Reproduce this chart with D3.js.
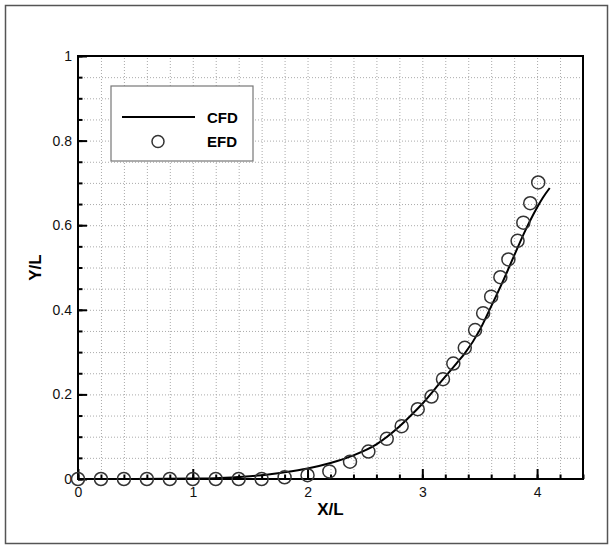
<!DOCTYPE html>
<html>

<head>
    <meta charset="utf-8">
    <style>
        body {
            margin: 0;
            background: white;
            font-family: 'Liberation Sans', Arial, sans-serif;
        }

        svg {
            display: block;
        }

        .grid line {
            stroke: #aaa;
            stroke-width: 1;
            stroke-dasharray: 1, 2;
        }

        .grid path {
            display: none;
        }

        .axis path {
            display: none;
        }

        .axis line {
            stroke: black;
            stroke-width: 2;
        }

        .axis text {
            font-size: 14px;
            fill: #111;
        }
    </style>
</head>

<body>
    <svg width="609" height="545"></svg>

    <script src="https://d3js.org/d3.v7.min.js"></script>

    <script>
        // CFD curve
        let cfdX = [0, 0.5, 1.0, 1.2, 1.4, 1.6, 1.8, 2.0, 2.2, 2.4, 2.6, 2.8, 2.9, 3.0, 3.15, 3.3, 3.37, 3.5, 3.6, 3.7, 3.8, 3.9, 4.0, 4.05, 4.11]
        let cfdY = [0, 0, 0.001, 0.002, 0.005, 0.009, 0.016, 0.025, 0.038, 0.056, 0.082, 0.124, 0.150, 0.178, 0.226, 0.274, 0.297, 0.352, 0.408, 0.466, 0.528, 0.589, 0.642, 0.665, 0.688]

        // EFD measurements
        let efdX = [0, 0.2, 0.4, 0.6, 0.8, 1.0, 1.2, 1.4, 1.6, 1.8, 2.0, 2.19, 2.37, 2.53, 2.69, 2.82, 2.96, 3.08, 3.18, 3.27, 3.37, 3.46, 3.53, 3.60, 3.68, 3.75, 3.83, 3.88, 3.94, 4.01]
        let efdY = [0, 0, 0, 0, 0, 0, 0, 0, 0, 0.004, 0.009, 0.018, 0.041, 0.065, 0.095, 0.125, 0.165, 0.195, 0.236, 0.273, 0.310, 0.352, 0.392, 0.431, 0.477, 0.519, 0.563, 0.606, 0.652, 0.701]

        let xMajor = [0, 1, 2, 3, 4]
        let yMajor = [0, 0.2, 0.4, 0.6, 0.8, 1]
        let legendLabels = ["CFD", "EFD"]

        let svg = d3.select("svg")

        let mLeft = 78, mRight = 583, mTop = 56, mBottom = 479
        let width = mRight - mLeft
        let height = mBottom - mTop

        // outer frame
        svg.append("rect")
            .attr("x", 5.5).attr("y", 5.5)
            .attr("width", 602).attr("height", 538)
            .style("fill", "none")
            .style("stroke", "#555")
            .style("stroke-width", 1.5)

        let x = d3.scaleLinear().domain([0, 4.4]).range([mLeft, mRight])
        let y = d3.scaleLinear().domain([0, 1]).range([mBottom, mTop])

        let xMinor = d3.range(0, 4.41, 0.2)
        let yMinor = d3.range(0, 1.001, 0.05)

        // dotted grid
        svg.append("g")
            .attr("class", "grid")
            .attr("transform", `translate(0,${mBottom})`)
            .call(d3.axisBottom(x).tickValues(xMinor).tickSize(-height).tickFormat(""))
        svg.append("g")
            .attr("class", "grid")
            .attr("transform", `translate(${mLeft},0)`)
            .call(d3.axisLeft(y).tickValues(yMinor).tickSize(-width).tickFormat(""))

        // inward ticks
        svg.append("g")
            .attr("class", "axis")
            .attr("transform", `translate(0,${mBottom})`)
            .call(d3.axisBottom(x).tickValues(xMinor).tickSize(-4.5).tickFormat(""))
        svg.append("g")
            .attr("class", "axis")
            .attr("transform", `translate(0,${mBottom})`)
            .call(d3.axisBottom(x).tickValues(xMajor).tickSizeInner(-10).tickSizeOuter(0).tickFormat(d3.format("d")))
            .selectAll("text").attr("y", 5).attr("dy", "0.9em")

        svg.append("g")
            .attr("class", "axis")
            .attr("transform", `translate(${mLeft},0)`)
            .call(d3.axisLeft(y).tickValues(yMinor).tickSize(-4.5).tickFormat(""))
        svg.append("g")
            .attr("class", "axis")
            .attr("transform", `translate(${mLeft},0)`)
            .call(d3.axisLeft(y).tickValues(yMajor).tickSizeInner(-9).tickSizeOuter(0).tickFormat(d => d))
            .selectAll("text").attr("x", -6)

        // plot frame
        svg.append("rect")
            .attr("x", mLeft).attr("y", mTop)
            .attr("width", width).attr("height", height)
            .style("fill", "none")
            .style("stroke", "black")
            .style("stroke-width", 2)

        // CFD line
        let line = d3.line()
            .x((d, i) => x(cfdX[i]))
            .y((d, i) => y(cfdY[i]))
            .curve(d3.curveMonotoneX)

        svg.append("path")
            .attr("d", line(cfdX))
            .style("fill", "none")
            .style("stroke", "black")
            .style("stroke-width", 2)

        // EFD circles
        svg.append("g")
            .selectAll("circle")
            .data(efdX)
            .join("circle")
            .attr("cx", (d, i) => x(efdX[i]))
            .attr("cy", (d, i) => y(efdY[i]))
            .attr("r", 6.5)
            .style("fill", "none")
            .style("stroke", "#333")
            .style("stroke-width", 1.5)

        // axis titles
        svg.append("text")
            .attr("x", (mLeft + mRight) / 2)
            .attr("y", 515)
            .attr("text-anchor", "middle")
            .style("font-size", "17px")
            .style("font-weight", "bold")
            .text("X/L")

        svg.append("text")
            .attr("transform", `translate(41,${(mTop + mBottom) / 2}) rotate(-90)`)
            .attr("text-anchor", "middle")
            .style("font-size", "17px")
            .style("font-weight", "bold")
            .text("Y/L")

        // legend
        let legend = svg.append("g")
        legend.append("rect")
            .attr("x", 111).attr("y", 86)
            .attr("width", 142).attr("height", 75)
            .style("fill", "white")
            .style("stroke", "#777")
            .style("stroke-width", 1.2)

        legend.append("line")
            .attr("x1", 122).attr("x2", 195)
            .attr("y1", 117).attr("y2", 117)
            .style("stroke", "black")
            .style("stroke-width", 2)

        legend.append("circle")
            .attr("cx", 158).attr("cy", 141.5)
            .attr("r", 6)
            .style("fill", "none")
            .style("stroke", "#333")
            .style("stroke-width", 1.5)

        legend.selectAll(".lab")
            .data(legendLabels)
            .join("text")
            .attr("class", "lab")
            .attr("x", 207)
            .attr("y", (d, i) => 122.5 + i * 24.5)
            .style("font-size", "15px")
            .style("font-weight", "bold")
            .text(d => d)
    </script>
</body>

</html>
